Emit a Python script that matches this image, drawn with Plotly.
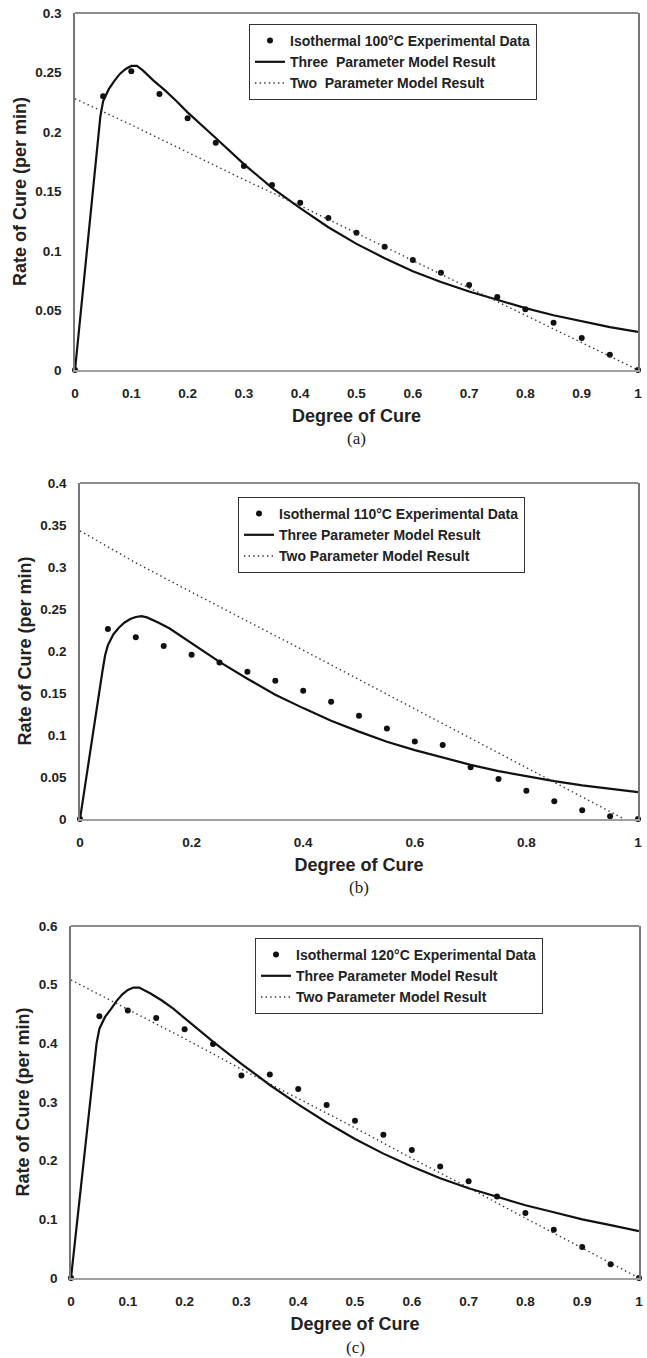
import plotly.graph_objects as go

W, H = 647, 1358

# ---------------- data ----------------
X_EXP = [0, 0.05, 0.1, 0.15, 0.2, 0.25, 0.3, 0.35, 0.4, 0.45, 0.5,
         0.55, 0.6, 0.65, 0.7, 0.75, 0.8, 0.85, 0.9, 0.95, 1.0]

EXP_100 = [0, 0.230, 0.251, 0.232, 0.2115, 0.191, 0.1715, 0.1555, 0.1405, 0.1277, 0.1154,
           0.1036, 0.0924, 0.0818, 0.0714, 0.0613, 0.0510, 0.0398, 0.0269, 0.0129, 0]
EXP_110 = [0, 0.2263, 0.2164, 0.2061, 0.1954, 0.1864, 0.1753, 0.1646, 0.1527, 0.1397, 0.1230,
           0.1076, 0.0922, 0.0882, 0.0617, 0.0475, 0.0336, 0.0210, 0.0103, 0.0032, 0]
EXP_120 = [0, 0.446, 0.456, 0.443, 0.424, 0.399, 0.345, 0.347, 0.322, 0.295, 0.268,
           0.244, 0.218, 0.190, 0.165, 0.139, 0.111, 0.0824, 0.0528, 0.0233, 0]

X_3P = [0, 0.01, 0.02, 0.03, 0.04, 0.045, 0.05, 0.06, 0.07, 0.08, 0.09, 0.1, 0.11, 0.12,
        0.14, 0.16, 0.18, 0.2, 0.25, 0.3, 0.35, 0.4, 0.45, 0.5, 0.55, 0.6, 0.65, 0.7,
        0.75, 0.8, 0.85, 0.9, 0.95, 1.0]
THREE_100 = [0, 0.048, 0.096, 0.143, 0.191, 0.213, 0.226, 0.236, 0.243, 0.249, 0.253, 0.2555,
             0.2555, 0.252, 0.243, 0.235, 0.226, 0.2165, 0.195, 0.173, 0.153, 0.136, 0.120,
             0.106, 0.094, 0.083, 0.074, 0.066, 0.059, 0.052, 0.046, 0.041, 0.036, 0.032]
THREE_110 = [0, 0.045, 0.090, 0.134, 0.175, 0.195, 0.207, 0.220, 0.228, 0.234, 0.238, 0.2405,
             0.2415, 0.240, 0.234, 0.227, 0.218, 0.209, 0.187, 0.167, 0.148, 0.132, 0.117,
             0.104, 0.092, 0.082, 0.073, 0.0645, 0.057, 0.051, 0.045, 0.040, 0.036, 0.032]
THREE_120 = [0, 0.090, 0.180, 0.270, 0.360, 0.400, 0.425, 0.445, 0.458, 0.472, 0.483, 0.491,
             0.495, 0.495, 0.485, 0.473, 0.459, 0.443, 0.403, 0.365, 0.329, 0.296, 0.265,
             0.237, 0.212, 0.190, 0.170, 0.153, 0.138, 0.124, 0.112, 0.100, 0.090, 0.080]

X_2P = [0, 0.1, 0.2, 0.3, 0.4, 0.5, 0.6, 0.7, 0.8, 0.9, 1.0]
TWO_100 = [0.228, 0.206, 0.183, 0.160, 0.138, 0.115, 0.092, 0.069, 0.046, 0.023, 0.0]
X_2P_110 = [0, 0.1, 0.2, 0.3, 0.4, 0.5, 0.6, 0.7, 0.8, 0.9, 0.975]
TWO_110 = [0.343, 0.305, 0.270, 0.236, 0.201, 0.166, 0.131, 0.097, 0.062, 0.027, 0.0]
TWO_120 = [0.508, 0.458, 0.408, 0.356, 0.306, 0.256, 0.204, 0.154, 0.102, 0.051, 0.0]

LEG_EXP = ["Isothermal 100°C Experimental Data",
           "Isothermal 110°C Experimental Data",
           "Isothermal 120°C Experimental Data"]
LEG_THREE = ["Three\u00a0 Parameter Model Result", "Three Parameter Model Result",
             "Three Parameter Model Result"]
LEG_TWO = ["Two\u00a0 Parameter Model Result", "Two Parameter Model Result",
           "Two Parameter Model Result"]

X_TICKS = [[0, 0.1, 0.2, 0.3, 0.4, 0.5, 0.6, 0.7, 0.8, 0.9, 1],
           [0, 0.2, 0.4, 0.6, 0.8, 1],
           [0, 0.1, 0.2, 0.3, 0.4, 0.5, 0.6, 0.7, 0.8, 0.9, 1]]
X_TICKTEXT = [["0", "0.1", "0.2", "0.3", "0.4", "0.5", "0.6", "0.7", "0.8", "0.9", "1"],
              ["0", "0.2", "0.4", "0.6", "0.8", "1"],
              ["0", "0.1", "0.2", "0.3", "0.4", "0.5", "0.6", "0.7", "0.8", "0.9", "1"]]
Y_TICKS = [[0, 0.05, 0.1, 0.15, 0.2, 0.25, 0.3],
           [0, 0.05, 0.1, 0.15, 0.2, 0.25, 0.3, 0.35, 0.4],
           [0, 0.1, 0.2, 0.3, 0.4, 0.5, 0.6]]
Y_TICKTEXT = [["0", "0.05", "0.1", "0.15", "0.2", "0.25", "0.3"],
              ["0", "0.05", "0.1", "0.15", "0.2", "0.25", "0.3", "0.35", "0.4"],
              ["0", "0.1", "0.2", "0.3", "0.4", "0.5", "0.6"]]
Y_MAX = [0.3, 0.4, 0.6]
CAPTIONS = ["(a)", "(b)", "(c)"]
X_TITLE = "Degree of Cure"
Y_TITLE = "Rate of Cure (per min)"

# ---------------- layout geometry (pixels) ----------------
# left, right, top, bottom of each plot frame
FRAMES = [(75, 638, 13, 370), (80, 638, 483, 819), (71, 639, 926, 1278)]
LEGEND_POS = [(249, 62), (238, 535), (255, 976)]   # left x, vertical centre y
CAPTION_Y = [439, 887, 1347]

SANS = "Arial, 'Liberation Sans', Helvetica, sans-serif"
SERIF = "'Times New Roman', 'Liberation Serif', serif"

exp_sets = [EXP_100, EXP_110, EXP_120]
three_sets = [THREE_100, THREE_110, THREE_120]
two_x = [X_2P, X_2P_110, X_2P]
two_sets = [TWO_100, TWO_110, TWO_120]

fig = go.Figure()
layout = dict(width=W, height=H, margin=dict(l=0, r=0, t=0, b=0),
              paper_bgcolor="white", plot_bgcolor="white", showlegend=True)
shapes, annotations = [], []

for i in range(3):
    sfx = "" if i == 0 else str(i + 1)
    xa, ya = "x" + sfx, "y" + sfx
    leg = "legend" + sfx
    fig.add_trace(go.Scatter(x=X_EXP, y=exp_sets[i], mode="markers", name=LEG_EXP[i],
                             marker=dict(color="#111", size=6), xaxis=xa, yaxis=ya,
                             legend=leg, cliponaxis=False))
    fig.add_trace(go.Scatter(x=X_3P, y=three_sets[i], mode="lines", name=LEG_THREE[i],
                             line=dict(color="#111", width=2.2), xaxis=xa, yaxis=ya,
                             legend=leg))
    fig.add_trace(go.Scatter(x=two_x[i], y=two_sets[i], mode="lines", name=LEG_TWO[i],
                             line=dict(color="#333", width=1.4, dash="1.4px,3.2px"),
                             xaxis=xa, yaxis=ya, legend=leg))

    l, r, t, b = FRAMES[i]
    layout["xaxis" + sfx] = dict(
        domain=[l / W, r / W], anchor=ya, range=[0, 1],
        tickvals=X_TICKS[i], ticktext=X_TICKTEXT[i], ticks="", showgrid=False,
        zeroline=False, showline=True, linecolor="#a0a0a0", linewidth=2, mirror=False,
        tickfont=dict(family=SANS, size=13.5, color="#222", weight="bold"),
        ticklabelstandoff=10, automargin=False,
        title=dict(text=X_TITLE, standoff=9,
                   font=dict(family=SANS, size=18, color="#222", weight="bold")))
    layout["yaxis" + sfx] = dict(
        domain=[1 - b / H, 1 - t / H], anchor=xa, range=[0, Y_MAX[i]],
        tickvals=Y_TICKS[i], ticktext=Y_TICKTEXT[i], ticks="", showgrid=False,
        zeroline=False, showline=True, linecolor="#777", linewidth=1.5, mirror=True,
        tickfont=dict(family=SANS, size=13.5, color="#222", weight="bold"),
        ticklabelstandoff=9, automargin=False,
        title=dict(text=Y_TITLE, standoff=4,
                   font=dict(family=SANS, size=18, color="#222", weight="bold")))
    shapes.append(dict(type="line", xref=xa + " domain", yref=ya + " domain",
                       x0=0, x1=1, y0=1, y1=1, line=dict(color="#666", width=1.5)))
    lx, lyc = LEGEND_POS[i]
    layout[leg] = dict(x=lx / W, xanchor="left", y=1 - lyc / H, yanchor="middle",
                       bgcolor="white", bordercolor="#333", borderwidth=1,
                       font=dict(family=SANS, size=14, color="#222", weight="bold"),
                       tracegroupgap=0, itemwidth=30)
    annotations.append(dict(text=CAPTIONS[i], xref="paper", yref="paper",
                            x=((l + r) / 2) / W, y=1 - CAPTION_Y[i] / H,
                            xanchor="center", yanchor="middle", showarrow=False,
                            font=dict(family=SERIF, size=17, color="#222")))

layout["shapes"] = shapes
layout["annotations"] = annotations
fig.update_layout(**layout)
fig.write_html("out.html")
